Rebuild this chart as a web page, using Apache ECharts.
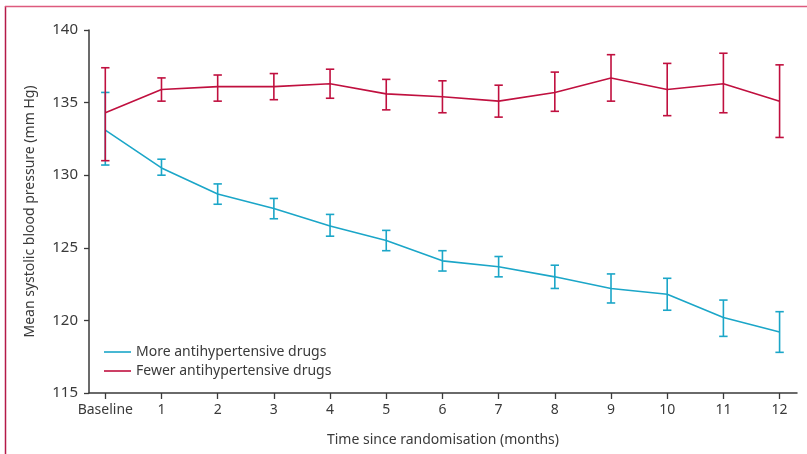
<!DOCTYPE html>
<html>
<head>
<meta charset="utf-8">
<script src="https://cdn.jsdelivr.net/npm/echarts@6/dist/echarts.min.js"></script>
<style>html,body{margin:0;padding:0;background:#fff;}#c{width:807px;height:454px;}</style>
</head>
<body>
<div id="c"></div>
<script>
var months = [0, 1, 2, 3, 4, 5, 6, 7, 8, 9, 10, 11, 12];
var monthLabels = ['Baseline', '1', '2', '3', '4', '5', '6', '7', '8', '9', '10', '11', '12'];
var moreMean = [133.1, 130.5, 128.7, 127.7, 126.5, 125.5, 124.1, 123.7, 123.0, 122.2, 121.8, 120.2, 119.2];
var moreLow  = [130.7, 130.0, 128.0, 127.0, 125.8, 124.8, 123.4, 123.0, 122.2, 121.2, 120.7, 118.9, 117.8];
var moreHigh = [135.7, 131.1, 129.4, 128.4, 127.3, 126.2, 124.8, 124.4, 123.8, 123.2, 122.9, 121.4, 120.6];
var fewerMean = [134.3, 135.9, 136.1, 136.1, 136.3, 135.6, 135.4, 135.1, 135.7, 136.7, 135.9, 136.3, 135.1];
var fewerLow  = [131.0, 135.1, 135.1, 135.2, 135.3, 134.5, 134.3, 134.0, 134.4, 135.1, 134.1, 134.3, 132.6];
var fewerHigh = [137.4, 136.7, 136.9, 137.0, 137.3, 136.6, 136.5, 136.2, 137.1, 138.3, 137.7, 138.4, 137.6];
var yTicks = [115, 120, 125, 130, 135, 140];

var BLUE = '#1ba6c8';
var RED = '#c0103f';
var TXT = '#3a3a3a';
var FONT = 'Noto Sans';

function pairs(xs, ys) { return xs.map(function (x, i) { return [x, ys[i]]; }); }
function triples(xs, lo, hi) { return xs.map(function (x, i) { return [x, lo[i], hi[i]]; }); }

function errRender(color) {
  return function (params, api) {
    var x = api.value(0);
    var lo = api.coord([x, api.value(1)]);
    var hi = api.coord([x, api.value(2)]);
    var w = 4.2;
    var st = { stroke: color, lineWidth: 1.6 };
    return {
      type: 'group',
      children: [
        { type: 'line', shape: { x1: lo[0], y1: lo[1], x2: hi[0], y2: hi[1] }, style: st },
        { type: 'line', shape: { x1: lo[0] - w, y1: lo[1], x2: lo[0] + w, y2: lo[1] }, style: st },
        { type: 'line', shape: { x1: hi[0] - w, y1: hi[1], x2: hi[0] + w, y2: hi[1] }, style: st }
      ]
    };
  };
}

var chart = echarts.init(document.getElementById('c'), null, { renderer: 'canvas' });
chart.setOption({
  animation: false,
  backgroundColor: '#fff',
  textStyle: { fontFamily: FONT },
  graphic: [
    { type: 'line', shape: { x1: 5.5, y1: 6, x2: 5.5, y2: 454 }, style: { stroke: '#b51a48', lineWidth: 1.5 }, silent: true },
    { type: 'line', shape: { x1: 5, y1: 6.5, x2: 807, y2: 6.5 }, style: { stroke: '#dd5a7e', lineWidth: 1.5 }, silent: true }
  ],
  grid: { left: 89, right: 10, top: 30, bottom: 61 },
  legend: {
    orient: 'vertical',
    left: 104,
    top: 344,
    padding: 0,
    icon: 'rect',
    itemWidth: 27,
    itemHeight: 1.6,
    itemGap: 3,
    data: [
      { name: 'More antihypertensive drugs', itemStyle: { color: BLUE } },
      { name: 'Fewer antihypertensive drugs', itemStyle: { color: RED } }
    ],
    textStyle: { fontFamily: FONT, fontSize: 14, color: TXT, lineHeight: 16 }
  },
  xAxis: {
    type: 'value',
    min: -0.29,
    max: 12.31,
    name: 'Time since randomisation (months)',
    nameLocation: 'middle',
    nameGap: 40,
    nameTextStyle: { fontFamily: FONT, fontSize: 14, color: TXT },
    axisLine: { show: true, onZero: false, lineStyle: { color: '#3a3a3a', width: 1.5 } },
    axisTick: { show: true, length: 6, customValues: months, lineStyle: { color: '#3a3a3a', width: 1.3 } },
    axisLabel: {
      customValues: months,
      margin: 10,
      fontFamily: FONT, fontSize: 14, color: TXT,
      formatter: function (v) { return monthLabels[months.indexOf(Math.round(v))]; }
    },
    splitLine: { show: false }
  },
  yAxis: {
    type: 'value',
    min: 115,
    max: 140,
    interval: 5,
    name: 'Mean systolic blood pressure (mm Hg)',
    nameLocation: 'middle',
    nameGap: 52,
    nameTextStyle: { fontFamily: FONT, fontSize: 14, color: TXT },
    axisLine: { show: true, onZero: false, lineStyle: { color: '#3a3a3a', width: 1.5 } },
    axisTick: { show: true, length: 5, customValues: yTicks, lineStyle: { color: '#3a3a3a', width: 1.3 } },
    axisLabel: { customValues: yTicks, margin: 11, fontFamily: FONT, fontSize: 15, color: TXT },
    splitLine: { show: false }
  },
  series: [
    {
      name: 'More antihypertensive drugs',
      type: 'line',
      data: pairs(months, moreMean),
      showSymbol: false,
      symbol: 'none',
      lineStyle: { color: BLUE, width: 1.6 },
      itemStyle: { color: BLUE },
      z: 2
    },
    {
      name: 'moreErr',
      type: 'custom',
      data: triples(months, moreLow, moreHigh),
      renderItem: errRender(BLUE),
      encode: { x: 0, y: [1, 2] },
      z: 2
    },
    {
      name: 'Fewer antihypertensive drugs',
      type: 'line',
      data: pairs(months, fewerMean),
      showSymbol: false,
      symbol: 'none',
      lineStyle: { color: RED, width: 1.6 },
      itemStyle: { color: RED },
      z: 3
    },
    {
      name: 'fewerErr',
      type: 'custom',
      data: triples(months, fewerLow, fewerHigh),
      renderItem: errRender(RED),
      encode: { x: 0, y: [1, 2] },
      z: 3
    }
  ]
});
</script>
</body>
</html>
